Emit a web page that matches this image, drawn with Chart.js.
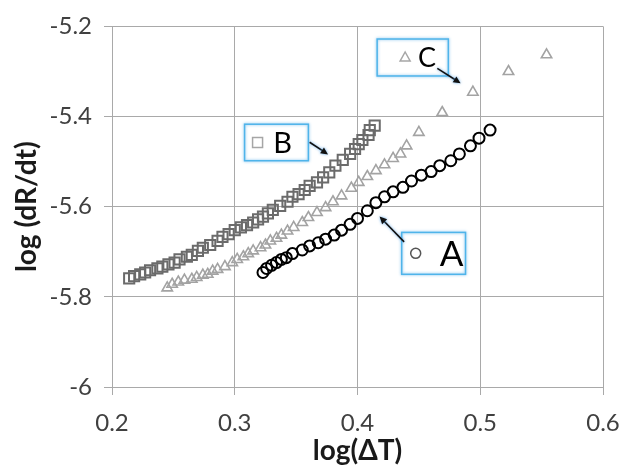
<!DOCTYPE html>
<html>
<head>
<meta charset="utf-8">
<script src="https://cdn.jsdelivr.net/npm/chart.js@4.4.0/dist/chart.umd.min.js"></script>
<style>
  html, body { margin: 0; padding: 0; background: #fff; }
  #wrap { width: 635px; height: 468px; }
</style>
</head>
<body>
<div id="wrap"><canvas id="chart" width="635" height="468"></canvas></div>
<script>
// series A (circles)
var aX = [0.323,0.326,0.330,0.334,0.338,0.342,0.347,0.355,0.361,0.368,0.374,0.381,0.387,0.394,0.400,
          0.408,0.415,0.422,0.429,0.437,0.444,0.452,0.460,0.467,0.476,0.483,0.492,0.499,0.508]
var aY = [-5.746,-5.737,-5.730,-5.724,-5.717,-5.713,-5.704,-5.696,-5.687,-5.680,-5.672,-5.663,-5.652,-5.639,-5.626,
          -5.609,-5.591,-5.578,-5.567,-5.557,-5.543,-5.530,-5.522,-5.509,-5.498,-5.483,-5.465,-5.448,-5.430]

// series B (squares)
var bX = [0.214,0.218,0.223,0.227,0.231,0.237,0.241,0.246,0.251,0.255,0.261,0.265,0.270,0.274,0.280,
          0.286,0.290,0.295,0.300,0.305,0.310,0.315,0.319,0.323,0.327,0.331,0.337,0.343,0.347,0.352,
          0.357,0.361,0.367,0.372,0.377,0.382,0.388,0.394,0.398,0.401,0.404,0.409,0.410,0.414]
var bY = [-5.759,-5.754,-5.750,-5.746,-5.741,-5.737,-5.733,-5.728,-5.724,-5.717,-5.711,-5.707,-5.698,-5.691,-5.685,
          -5.676,-5.667,-5.661,-5.652,-5.646,-5.641,-5.635,-5.628,-5.622,-5.615,-5.607,-5.598,-5.589,-5.578,-5.572,
          -5.563,-5.554,-5.546,-5.535,-5.524,-5.509,-5.496,-5.483,-5.472,-5.461,-5.452,-5.441,-5.430,-5.420]

// series C (triangles)
var cX = [0.245,0.249,0.254,0.259,0.265,0.269,0.274,0.278,0.282,0.286,0.292,0.298,0.302,0.307,0.311,
          0.315,0.321,0.325,0.329,0.334,0.338,0.343,0.348,0.355,0.360,0.367,0.374,0.380,0.387,0.395,
          0.401,0.408,0.415,0.422,0.429,0.435,0.440,0.450,0.469,0.494,0.523,0.554]
var cY = [-5.780,-5.772,-5.767,-5.763,-5.761,-5.757,-5.752,-5.750,-5.743,-5.739,-5.733,-5.724,-5.717,-5.711,-5.704,
          -5.698,-5.691,-5.685,-5.676,-5.670,-5.663,-5.654,-5.646,-5.635,-5.624,-5.613,-5.602,-5.589,-5.576,-5.559,
          -5.546,-5.533,-5.520,-5.507,-5.493,-5.483,-5.465,-5.435,-5.391,-5.346,-5.300,-5.263]

var xTicks = [0.2, 0.3, 0.4, 0.5, 0.6]
var yTicks = [-6, -5.8, -5.6, -5.4, -5.2]
var xTitle = 'log(\u0394T)'
var yTitle = 'log (dR/dt)'

function pts(xs, ys){
  return xs.map(function(x, i){ return { x: x, y: ys[i] } })
}

// callout boxes (A, B, C) in data coordinates
var notes = [
  { label: 'C', icon: 'triangle', iconColor: '#a6a6a6', x0: 0.416, y0: -5.228, x1: 0.474, y1: -5.310,
    iconDx: 28, textDx: 50, size: 27, arrow: [0.465, -5.293, 0.484, -5.326] },
  { label: 'B', icon: 'rect', iconColor: '#a6a6a6', x0: 0.308, y0: -5.417, x1: 0.360, y1: -5.498,
    iconDx: 13, textDx: 38, size: 29, arrow: [0.361, -5.457, 0.376, -5.484] },
  { label: 'A', icon: 'circle', iconColor: '#555555', x0: 0.436, y0: -5.657, x1: 0.488, y1: -5.750,
    iconDx: 14, textDx: 50, size: 35, arrow: [0.438, -5.678, 0.418, -5.622] }
]

function drawIcon(ctx, type, x, y, color){
  ctx.save()
  ctx.strokeStyle = color
  ctx.lineWidth = 1.5
  ctx.beginPath()
  if (type === 'circle') ctx.arc(x, y, 5, 0, Math.PI * 2)
  else if (type === 'rect') ctx.rect(x - 5, y - 5, 10, 10)
  else { ctx.moveTo(x, y - 5.5); ctx.lineTo(x + 5, y + 3.5); ctx.lineTo(x - 5, y + 3.5); ctx.closePath() }
  ctx.stroke()
  ctx.restore()
}

var calloutPlugin = {
  id: 'callouts',
  afterDatasetsDraw: function(chart){
    var ctx = chart.ctx
    var sx = chart.scales.x, sy = chart.scales.y
    notes.forEach(function(n){
      var l = sx.getPixelForValue(n.x0), r = sx.getPixelForValue(n.x1)
      var t = sy.getPixelForValue(n.y0), b = sy.getPixelForValue(n.y1)
      var cy = (t + b) / 2
      ctx.save()
      ctx.fillStyle = '#fff'
      ctx.fillRect(l, t, r - l, b - t)
      ctx.shadowColor = 'rgba(80,170,230,0.8)'
      ctx.shadowBlur = 3
      ctx.strokeStyle = '#4fb4ea'
      ctx.lineWidth = 1.5
      ctx.strokeRect(l, t, r - l, b - t)
      ctx.restore()

      drawIcon(ctx, n.icon, l + n.iconDx, cy, n.iconColor)

      ctx.save()
      ctx.fillStyle = '#000'
      ctx.font = n.size + 'px Lato'
      ctx.textAlign = 'center'
      ctx.textBaseline = 'middle'
      ctx.fillText(n.label, l + n.textDx, cy + 1)
      ctx.restore()

      // arrow
      var ax0 = sx.getPixelForValue(n.arrow[0]), ay0 = sy.getPixelForValue(n.arrow[1])
      var ax1 = sx.getPixelForValue(n.arrow[2]), ay1 = sy.getPixelForValue(n.arrow[3])
      var ang = Math.atan2(ay1 - ay0, ax1 - ax0)
      ctx.save()
      ctx.shadowColor = 'rgba(80,160,230,0.9)'
      ctx.shadowBlur = 3
      ctx.strokeStyle = '#111'
      ctx.fillStyle = '#111'
      ctx.lineWidth = 1.6
      ctx.beginPath()
      ctx.moveTo(ax0, ay0)
      ctx.lineTo(ax1 - Math.cos(ang) * 4, ay1 - Math.sin(ang) * 4)
      ctx.stroke()
      ctx.beginPath()
      ctx.moveTo(ax1, ay1)
      ctx.lineTo(ax1 - Math.cos(ang - 0.45) * 8, ay1 - Math.sin(ang - 0.45) * 8)
      ctx.lineTo(ax1 - Math.cos(ang + 0.45) * 8, ay1 - Math.sin(ang + 0.45) * 8)
      ctx.closePath()
      ctx.fill()
      ctx.restore()
    })
  }
}

var gridColor = '#a9a9a9'
var tickFont = { family: 'Lato', size: 24 }
var titleFont = { family: 'Lato', size: 28, weight: 'bold' }

new Chart(document.getElementById('chart'), {
  type: 'scatter',
  data: {
    datasets: [
      { label: 'C', data: pts(cX, cY), pointStyle: 'triangle', pointRadius: 6, borderWidth: 1.6,
        borderColor: '#a3a3a3', backgroundColor: 'rgba(0,0,0,0)' },
      { label: 'B', data: pts(bX, bY), pointStyle: 'rect', pointRadius: 7.2, borderWidth: 2,
        borderColor: '#6b6b6b', backgroundColor: 'rgba(0,0,0,0)' },
      { label: 'A', data: pts(aX, aY), pointStyle: 'circle', pointRadius: 5.5, borderWidth: 2,
        borderColor: '#000', backgroundColor: 'rgba(0,0,0,0)' }
    ]
  },
  options: {
    responsive: false,
    animation: false,
    devicePixelRatio: 1,
    layout: { padding: { top: 19, right: 32, left: 0, bottom: 0 } },
    plugins: { legend: { display: false }, tooltip: { enabled: false } },
    scales: {
      x: {
        type: 'linear', min: 0.2, max: 0.6,
        afterBuildTicks: function(s){ s.ticks = xTicks.map(function(v){ return { value: v } }) },
        afterFit: function(s){ s.height = 81 },
        grid: { color: gridColor, lineWidth: 1, tickLength: 8, drawTicks: true },
        border: { color: gridColor, width: 1 },
        ticks: { color: '#404040', font: tickFont, padding: 14,
          callback: function(v){ return String(Number(v.toFixed(1))) } },
        title: { display: true, text: xTitle, color: '#1a1a1a', font: titleFont,
          padding: { top: 0, bottom: 0 } }
      },
      y: {
        type: 'linear', min: -6, max: -5.2,
        afterBuildTicks: function(s){ s.ticks = yTicks.map(function(v){ return { value: v } }) },
        afterFit: function(s){ s.width = 112 },
        grid: { color: gridColor, lineWidth: 1, tickLength: 8, drawTicks: true },
        border: { color: gridColor, width: 1 },
        ticks: { color: '#404040', font: tickFont, padding: 12,
          callback: function(v){ return String(Number(v.toFixed(1))) } },
        title: { display: true, text: yTitle, color: '#1a1a1a', font: titleFont,
          padding: { top: 10, bottom: 0 } }
      }
    }
  },
  plugins: [calloutPlugin]
})
</script>
</body>
</html>
